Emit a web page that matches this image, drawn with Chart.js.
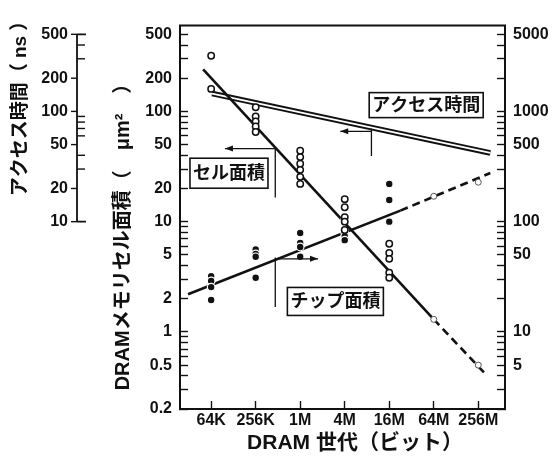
<!DOCTYPE html>
<html>
<head>
<meta charset="utf-8">
<script src="https://cdn.jsdelivr.net/npm/chart.js@4/dist/chart.umd.min.js"></script>
<style>
  body { margin: 0; background: #fff; }
  #wrap { width: 557px; height: 470px; }
</style>
</head>
<body>
<div id="wrap"><canvas id="dramChart" width="557" height="470"></canvas></div>
<script>
// DRAM generations, x axis (index 0..6)
const generations = ['64K', '256K', '1M', '4M', '16M', '64M', '256M'];

// memory cell area (um2), open circles, one list per generation
const cellArea = [
    [320, 160],
    [109, 90, 81, 73, 65],
    [44, 38.5, 33.5, 29.5, 25.5, 22],
    [16, 13.5, 11, 10, 8.4],
    [6.3, 5.2, 4.6, 3.45, 3.1]
];
// chip area (mm2, right axis), filled dots
const chipArea = [
    [32, 29, 25.5, 19.5],
    [56, 51, 48, 31],
    [79, 64, 59, 48],
    [104, 80, 74, 68],
    [220, 157, 100]
];
// projected values for 64M and 256M
const projGen = [5, 6];
const cellProjected = [1.3, 0.5];
const chipProjected = [170, 228];

// trend lines (x in generation index), dashed after the 2nd point
const cellTrendX = [-0.18, 5, 6.2];
const cellTrendY = [240, 1.3, 0.4];
const chipTrendX = [-0.52, 4.25, 6.27];
const chipTrendY = [22, 126, 276];
// access time (ns)
const accessX = [0.02, 6.27];
const accessNs = [145, 42];

// tick labels
const leftLabels = [0.2, 0.5, 1, 2, 5, 10, 20, 50, 100, 200, 500];
const rightLabels = [5, 10, 50, 100, 500, 1000, 5000];
const accessLabels = [10, 20, 50, 100, 200, 500];

function logTicks(lo, hi, decades) {
    const out = [];
    decades.forEach(d => {
        for (let m = 1; m <= 9; m++) {
            const v = +(m * d).toPrecision(2);
            if (v >= lo && v <= hi) out.push(v);
        }
    });
    return out;
}
const leftTicks = logTicks(0.2, 500, [0.1, 1, 10, 100]);
const rightTicks = logTicks(2, 5000, [1, 10, 100, 1000]);
const accessTicks = logTicks(10, 500, [10, 100]);

const ink = '#111';
const fontLat = "'Liberation Sans', Arial, sans-serif";
const fontJp = "'Liberation Sans', 'Noto Sans CJK JP', sans-serif";

const toPoints = (xs, ys) => xs.map((x, i) => ({ x: x, y: ys[i] }));
const cellPoints = cellArea.flatMap((vals, i) => vals.map(v => ({ x: i, y: v })));
const chipPoints = chipArea.flatMap((vals, i) => vals.map(v => ({ x: i, y: v })));

const dashAfterFirst = { borderDash: ctx => ctx.p0DataIndex >= 1 ? [8, 5] : undefined };

// boxes and arrows (x in generation index, y in left axis units)
const notes = [
    { text: 'セル面積', x: 0.40, y: 27.5, w: 78, h: 30 },
    { text: 'アクセス時間', x: 4.83, y: 114, w: 114, h: 25 },
    { text: 'チップ面積', x: 2.79, y: 1.89, w: 96, h: 28 }
];
const leaders = [
    { x: 1.44, y1: 46, y2: 16.6, ax: 0.31, ay: 46 },
    { x: 3.6, y1: 70, y2: 39.4, ax: 2.9, ay: 66 },
    { x: 1.44, y1: 4.72, y2: 1.68, ax: 2.4, ay: 4.6 }
];

const extras = {
    id: 'extras',
    afterDraw(chart) {
        const { ctx, chartArea: a, scales: { x, y } } = chart;
        ctx.save();
        ctx.strokeStyle = ink;
        ctx.fillStyle = ink;

        // top frame
        ctx.lineWidth = 2;
        ctx.beginPath();
        ctx.moveTo(a.left - 1, a.top);
        ctx.lineTo(a.right + 1, a.top);
        ctx.stroke();

        // access time axis (same scale as left axis)
        const ax0 = 77;
        const yTop = y.getPixelForValue(500), yBot = y.getPixelForValue(10);
        ctx.lineWidth = 1.8;
        ctx.beginPath();
        ctx.moveTo(ax0, yTop);
        ctx.lineTo(ax0, yBot);
        ctx.moveTo(ax0, yTop);
        ctx.lineTo(ax0 + 9, yTop);
        ctx.moveTo(ax0, yBot);
        ctx.lineTo(ax0 + 9, yBot);
        ctx.stroke();
        ctx.lineWidth = 1.4;
        accessTicks.forEach(v => {
            const py = y.getPixelForValue(v);
            ctx.beginPath();
            if (accessLabels.includes(v)) {
                ctx.moveTo(ax0 - 6, py);
                ctx.lineTo(ax0, py);
            } else {
                ctx.moveTo(ax0, py);
                ctx.lineTo(ax0 + 8, py);
            }
            ctx.stroke();
        });
        ctx.font = 'bold 16px ' + fontLat;
        ctx.textAlign = 'right';
        ctx.textBaseline = 'middle';
        accessLabels.forEach(v => ctx.fillText(String(v), 68, y.getPixelForValue(v)));

        // axis titles
        ctx.textAlign = 'center';
        ctx.font = 'bold 19px ' + fontJp;
        ctx.save();
        ctx.translate(21, 104);
        ctx.rotate(-Math.PI / 2);
        ctx.fillText('アクセス時間（ ns ）', 0, 0);
        ctx.restore();
        ctx.font = 'bold 20px ' + fontJp;
        ctx.save();
        ctx.translate(123, 232);
        ctx.rotate(-Math.PI / 2);
        ctx.fillText('DRAMメモリセル面積（　μm²　）', 0, 0);
        ctx.restore();
        ctx.font = 'bold 21px ' + fontJp;
        ctx.fillText('DRAM 世代（ビット）', 355, 443);

        // leaders with arrows
        ctx.lineWidth = 1.3;
        leaders.forEach(l => {
            const px = x.getPixelForValue(l.x);
            const ay = y.getPixelForValue(l.ay);
            const tip = x.getPixelForValue(l.ax);
            ctx.beginPath();
            ctx.moveTo(px, y.getPixelForValue(l.y1));
            ctx.lineTo(px, y.getPixelForValue(l.y2));
            ctx.moveTo(px, ay);
            ctx.lineTo(tip, ay);
            ctx.stroke();
            const dir = tip < px ? 1 : -1;
            ctx.beginPath();
            ctx.moveTo(tip, ay);
            ctx.lineTo(tip + dir * 8, ay - 3);
            ctx.lineTo(tip + dir * 8, ay + 3);
            ctx.closePath();
            ctx.fill();
        });

        // label boxes
        ctx.font = 'bold 18px ' + fontJp;
        notes.forEach(n => {
            const cx = x.getPixelForValue(n.x), cy = y.getPixelForValue(n.y);
            ctx.fillStyle = '#fff';
            ctx.fillRect(cx - n.w / 2, cy - n.h / 2, n.w, n.h);
            ctx.lineWidth = 1.6;
            ctx.strokeRect(cx - n.w / 2, cy - n.h / 2, n.w, n.h);
            ctx.fillStyle = ink;
            ctx.fillText(n.text, cx, cy + 1);
        });
        ctx.restore();
    }
};

const data = {
    datasets: [
        {
            label: 'cell',
            data: cellPoints,
            yAxisID: 'y',
            pointRadius: 3.2,
            pointBackgroundColor: '#fff',
            pointBorderColor: ink,
            pointBorderWidth: 1.5,
            order: 0
        },
        {
            label: 'chip',
            data: chipPoints,
            yAxisID: 'y2',
            pointRadius: 3.8,
            pointBackgroundColor: ink,
            pointBorderColor: '#fff',
            pointBorderWidth: 1.2,
            order: 0
        },
        {
            label: 'cell projected',
            data: toPoints(projGen, cellProjected),
            yAxisID: 'y',
            pointRadius: 3,
            pointBackgroundColor: '#fff',
            pointBorderColor: '#555',
            pointBorderWidth: 1,
            order: 0
        },
        {
            label: 'chip projected',
            data: toPoints(projGen, chipProjected),
            yAxisID: 'y2',
            pointRadius: 3,
            pointBackgroundColor: '#fff',
            pointBorderColor: '#555',
            pointBorderWidth: 1,
            order: 0
        },
        {
            label: 'cell trend',
            data: toPoints(cellTrendX, cellTrendY),
            yAxisID: 'y',
            showLine: true,
            borderColor: ink,
            borderWidth: 2.6,
            pointRadius: 0,
            segment: dashAfterFirst,
            order: 2
        },
        {
            label: 'chip trend',
            data: toPoints(chipTrendX, chipTrendY),
            yAxisID: 'y2',
            showLine: true,
            borderColor: ink,
            borderWidth: 2.6,
            pointRadius: 0,
            segment: dashAfterFirst,
            order: 2
        },
        {
            label: 'access inner',
            data: toPoints(accessX, accessNs),
            yAxisID: 'y',
            showLine: true,
            borderColor: '#fff',
            borderWidth: 1.8,
            pointRadius: 0,
            order: 3
        },
        {
            label: 'access',
            data: toPoints(accessX, accessNs),
            yAxisID: 'y',
            showLine: true,
            borderColor: ink,
            borderWidth: 5.6,
            pointRadius: 0,
            order: 4
        }
    ]
};

const tickFont = { family: fontLat, size: 16, weight: 'bold' };
const tickGrid = { drawOnChartArea: false, tickLength: -8, tickWidth: 1.4, tickColor: ink };
const axisBorder = { display: true, color: ink, width: 2 };

const config = {
    type: 'scatter',
    data,
    options: {
        responsive: false,
        animation: false,
        layout: { padding: { left: 118, top: 5, right: 0, bottom: 0 } },
        plugins: { legend: { display: false }, tooltip: { enabled: false } },
        scales: {
            x: {
                type: 'linear',
                min: -0.7,
                max: 6.6,
                afterBuildTicks: s => { s.ticks = generations.map((g, i) => ({ value: i })); },
                afterFit: s => { s.height = 61; },
                ticks: {
                    callback: v => generations[v] ?? '',
                    autoSkip: false,
                    maxRotation: 0,
                    padding: 10,
                    color: ink,
                    font: tickFont
                },
                grid: tickGrid,
                border: axisBorder
            },
            y: {
                type: 'logarithmic',
                position: 'left',
                min: 0.2,
                max: 600,
                afterBuildTicks: s => { s.ticks = leftTicks.map(v => ({ value: v })); },
                afterFit: s => { s.width = 62; },
                ticks: {
                    callback: v => leftLabels.includes(v) ? String(v) : '',
                    autoSkip: false,
                    padding: 16,
                    color: ink,
                    font: tickFont
                },
                grid: tickGrid,
                border: axisBorder
            },
            y2: {
                type: 'logarithmic',
                position: 'right',
                min: 2,
                max: 6000,
                afterBuildTicks: s => { s.ticks = rightTicks.map(v => ({ value: v })); },
                afterFit: s => { s.width = 52; },
                ticks: {
                    callback: v => rightLabels.includes(v) ? String(v) : '',
                    autoSkip: false,
                    padding: 16,
                    color: ink,
                    font: tickFont
                },
                grid: tickGrid,
                border: axisBorder
            }
        }
    },
    plugins: [extras]
};

const dramChart = new Chart(document.getElementById('dramChart'), config);
</script>
</body>
</html>
